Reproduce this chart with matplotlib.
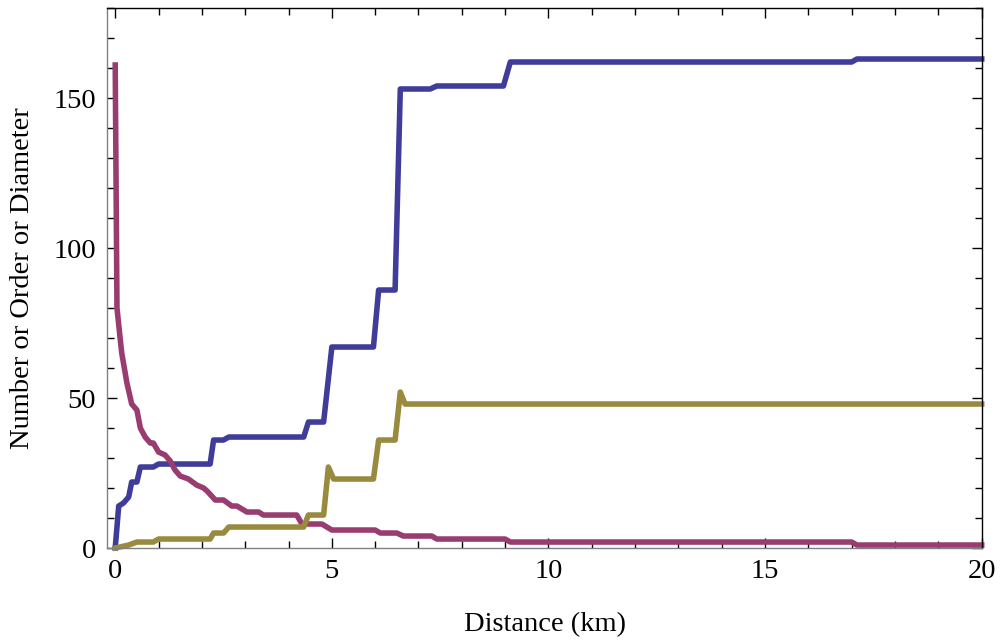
"""Number, order and diameter of streams against distance."""

import matplotlib
matplotlib.use("Agg")
import matplotlib.pyplot as plt
from matplotlib.ticker import MultipleLocator

# Number (blue)
number_km = [0, 0.08, 0.19, 0.31, 0.38, 0.5, 0.58, 0.88, 1.0, 2.19, 2.27, 2.5,
             2.62, 4.35, 4.46, 4.81, 5.0, 5.96, 6.08, 6.46, 6.58, 7.27, 7.42,
             8.96, 9.12, 17.0, 17.12, 20]
number = [0, 14, 15, 17, 22, 22, 27, 27, 28, 28, 36, 36,
          37, 37, 42, 42, 67, 67, 86, 86, 153, 153, 154,
          154, 162, 162, 163, 163]

# Diameter (red)
diam_km = [0, 0.04, 0.12, 0.15, 0.27, 0.38, 0.5, 0.58, 0.69, 0.81, 0.88, 1.0,
           1.15, 1.27, 1.38, 1.5, 1.69, 1.88, 2.04, 2.12, 2.31, 2.5, 2.69,
           2.81, 3.04, 3.31, 3.42, 4.19, 4.31, 4.77, 5.0, 6.0, 6.12, 6.5,
           6.65, 7.31, 7.42, 9.0, 9.12, 17.0, 17.12, 20]
diameter = [161, 80, 69, 65, 55, 48, 46, 40, 37, 35, 35, 32,
            31, 29, 26, 24, 23, 21, 20, 19, 16, 16, 14,
            14, 12, 12, 11, 11, 8, 8, 6, 6, 5, 5,
            4, 4, 3, 3, 2, 2, 1, 1]

# Order (olive)
order_km = [0, 0.31, 0.5, 0.88, 1.0, 2.19, 2.27, 2.5, 2.62, 4.35, 4.46, 4.81,
            4.92, 5.04, 5.96, 6.08, 6.46, 6.58, 6.69, 20]
order = [0, 1, 2, 2, 3, 3, 5, 5, 7, 7, 11, 11,
         27, 23, 23, 36, 36, 52, 48, 48]

plt.rcParams["font.family"] = ["Liberation Serif", "DejaVu Serif"]

fig = plt.figure(figsize=(10, 6.4), dpi=100)
ax = fig.add_axes([0.107, 0.1437, 0.8747, 0.8438])

lw = 4.0
ax.plot(number_km, number, color="#3f3d99", lw=lw, clip_on=False)
ax.plot(diam_km, diameter, color="#993d71", lw=lw, clip_on=False)
ax.plot(order_km, order, color="#998b3d", lw=lw, clip_on=False)

ax.set_xlim(-0.19, 20)
ax.set_ylim(0, 180)

ax.xaxis.set_major_locator(MultipleLocator(5))
ax.xaxis.set_minor_locator(MultipleLocator(1))
ax.yaxis.set_major_locator(MultipleLocator(50))
ax.yaxis.set_minor_locator(MultipleLocator(10))
ax.tick_params(which="both", direction="in", top=True, right=True,
               width=1, color="black", labelsize=20.5)
ax.tick_params(which="major", length=7.2)
ax.tick_params(which="minor", length=4.8)
ax.tick_params(axis="x", pad=8)
ax.tick_params(axis="y", pad=8)

for side in ["left", "bottom"]:
    ax.spines[side].set_color("#808080")
for side in ["top", "right"]:
    ax.spines[side].set_color("black")
for sp in ax.spines.values():
    sp.set_linewidth(1)

fig.text(0.5445, 1 - 625 / 640, "Distance (km)", ha="center", va="center",
         fontsize=20.5)
fig.text(0.023, 0.566, "Number or Order or Diameter", ha="center",
         va="center", rotation=90, fontsize=20.5)

fig.savefig("out.png", dpi=100)
